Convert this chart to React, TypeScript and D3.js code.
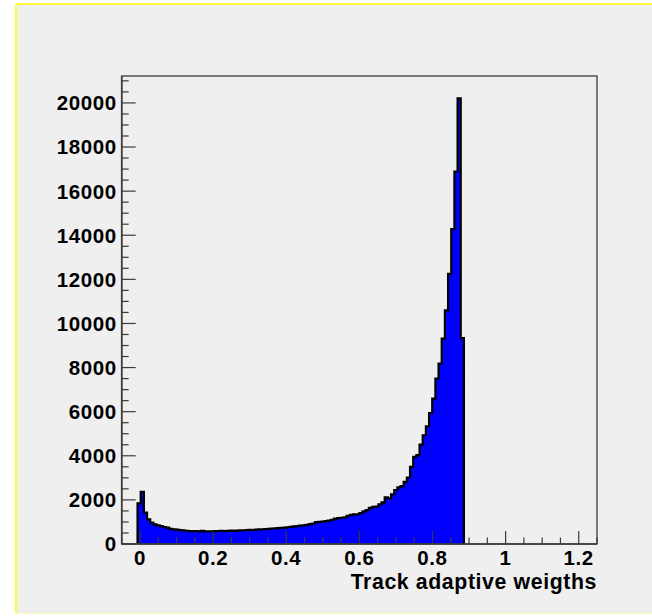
import React from "react";
import * as d3 from "d3";

// Histogram definition (ROOT-style TH1): 150 bins over [-0.05, 1.25]
const X_MIN = -0.05;
const X_MAX = 1.25;
const N_BINS = 150;
const FIRST_FILLED_BIN = 5;

// Bin contents starting at bin FIRST_FILLED_BIN (all other bins are empty)
const counts: number[] = [
  1840, 2370, 1420, 1120, 965, 890, 845, 815, 770, 740,
  690, 665, 650, 630, 620, 600, 590, 580, 590, 570,
  600, 570, 570, 575, 580, 590, 600, 585, 600, 610,
  595, 610, 620, 615, 630, 640, 635, 650, 660, 665,
  680, 690, 700, 705, 720, 730, 745, 760, 780, 800,
  810, 830, 850, 870, 900, 930, 990, 1000, 1020, 1040,
  1060, 1100, 1150, 1170, 1190, 1210, 1280, 1320, 1340, 1350,
  1400, 1480, 1540, 1640, 1680, 1700, 1795, 1885, 2110, 2065,
  2250, 2440, 2565, 2625, 2820, 3015, 3500, 3950, 4030, 4510,
  4930, 5340, 5940, 6590, 7500, 8180, 9310, 10590, 12250, 14280,
  16890, 20210, 9335,
];

const xMajorTicks = [0, 0.2, 0.4, 0.6, 0.8, 1, 1.2];
const xTickLabels = ["0", "0.2", "0.4", "0.6", "0.8", "1", "1.2"];
const X_MINOR_STEP = 0.05;
const Y_MAJOR_STEP = 2000;
const Y_MINOR_STEP = 500;
const xTitle = "Track adaptive weigths";

const W = 652;
const H = 616;
const FONT = "'Liberation Sans', Arial, Helvetica, sans-serif";

export default function App() {
  const left = 121.7;
  const right = 597;
  const top = 76;
  const bottom = 544;

  const binW = (X_MAX - X_MIN) / N_BINS;
  const yMax = 1.05 * (d3.max(counts) as number);

  const x = d3.scaleLinear().domain([X_MIN, X_MAX]).range([left, right]);
  const y = d3.scaleLinear().domain([0, yMax]).range([bottom, top]);

  const bins = counts.map((c, i) => ({
    lo: X_MIN + (FIRST_FILLED_BIN + i) * binW,
    hi: X_MIN + (FIRST_FILLED_BIN + i + 1) * binW,
    c,
  }));

  const stepPts: [number, number][] = [];
  bins.forEach((b) => stepPts.push([b.lo, b.c]));
  stepPts.push([bins[bins.length - 1].hi, bins[bins.length - 1].c]);

  const area = d3
    .area<[number, number]>()
    .x((d) => x(d[0]))
    .y0(y(0))
    .y1((d) => y(d[1]))
    .curve(d3.curveStepAfter);

  const outlinePts: [number, number][] = [
    [bins[0].lo, 0],
    ...stepPts,
    [bins[bins.length - 1].hi, 0],
  ];
  const line = d3
    .line<[number, number]>()
    .x((d) => x(d[0]))
    .y((d) => y(d[1]))
    .curve(d3.curveStepAfter);

  const xMinor = d3
    .range(Math.round((X_MAX - X_MIN) / X_MINOR_STEP) + 1)
    .map((i) => X_MIN + i * X_MINOR_STEP)
    .filter((v) => !xMajorTicks.some((m) => Math.abs(m - v) < 1e-6));
  const yMajor = d3.range(0, yMax, Y_MAJOR_STEP);
  const yMinor = d3
    .range(0, yMax, Y_MINOR_STEP)
    .filter((v) => v % Y_MAJOR_STEP !== 0);

  const axisColor = "#3a3a3a";

  return (
    <svg
      width={W}
      height={H}
      style={{ position: "absolute", left: 0, top: 0, display: "block", background: "#ffffff" }}
    >
      {/* canvas */}
      <rect x={16} y={4} width={W - 16} height={609} fill="#efefef" />
      <line x1={16} y1={4} x2={W} y2={4} stroke="#ffff00" strokeWidth={1.6} />
      <line x1={16} y1={4} x2={16} y2={613} stroke="#ffff00" strokeWidth={1.6} />
      <line x1={16} y1={613} x2={W} y2={613} stroke="#f3f3b0" strokeWidth={1.2} />

      {/* histogram */}
      <path d={area(stepPts) ?? ""} fill="#0000ff" />
      <path
        d={line(outlinePts) ?? ""}
        fill="none"
        stroke="#000"
        strokeWidth={2.2}
        strokeLinejoin="miter"
      />

      {/* frame */}
      <rect
        x={left}
        y={top}
        width={right - left}
        height={bottom - top}
        fill="none"
        stroke={axisColor}
        strokeWidth={1.3}
      />

      {/* x axis ticks */}
      {xMajorTicks.map((v) => (
        <line key={"xM" + v} x1={x(v)} x2={x(v)} y1={bottom} y2={bottom - 13} stroke={axisColor} strokeWidth={1.2} />
      ))}
      {xMinor.map((v) => (
        <line key={"xm" + v} x1={x(v)} x2={x(v)} y1={bottom} y2={bottom - 6.5} stroke={axisColor} strokeWidth={1.2} />
      ))}
      {xMajorTicks.map((v, i) => (
        <text
          key={"xl" + v}
          x={x(v)}
          y={565}
          textAnchor="middle"
          fontFamily={FONT}
          fontWeight="bold"
          fontSize={20.5}
          letterSpacing={0.6}
          fill="#000"
        >
          {xTickLabels[i]}
        </text>
      ))}

      {/* y axis ticks */}
      {yMajor.map((v) => (
        <line key={"yM" + v} x1={left} x2={left + 14} y1={y(v)} y2={y(v)} stroke={axisColor} strokeWidth={1.2} />
      ))}
      {yMinor.map((v) => (
        <line key={"ym" + v} x1={left} x2={left + 7} y1={y(v)} y2={y(v)} stroke={axisColor} strokeWidth={1.2} />
      ))}
      {yMajor.map((v) => (
        <text
          key={"yl" + v}
          x={left - 5}
          y={y(v)}
          dy="0.36em"
          textAnchor="end"
          fontFamily={FONT}
          fontWeight="bold"
          fontSize={20.5}
          letterSpacing={0.6}
          fill="#000"
        >
          {String(v)}
        </text>
      ))}

      {/* axis lines */}
      <line x1={left} x2={left} y1={top} y2={bottom} stroke={axisColor} strokeWidth={1.6} />
      <line x1={left} x2={right} y1={bottom} y2={bottom} stroke={axisColor} strokeWidth={1.6} />

      {/* x title */}
      <text
        x={right}
        y={589}
        textAnchor="end"
        fontFamily={FONT}
        fontWeight="bold"
        fontSize={21.3}
        letterSpacing={0.6}
        fill="#000"
      >
        {xTitle}
      </text>
    </svg>
  );
}
